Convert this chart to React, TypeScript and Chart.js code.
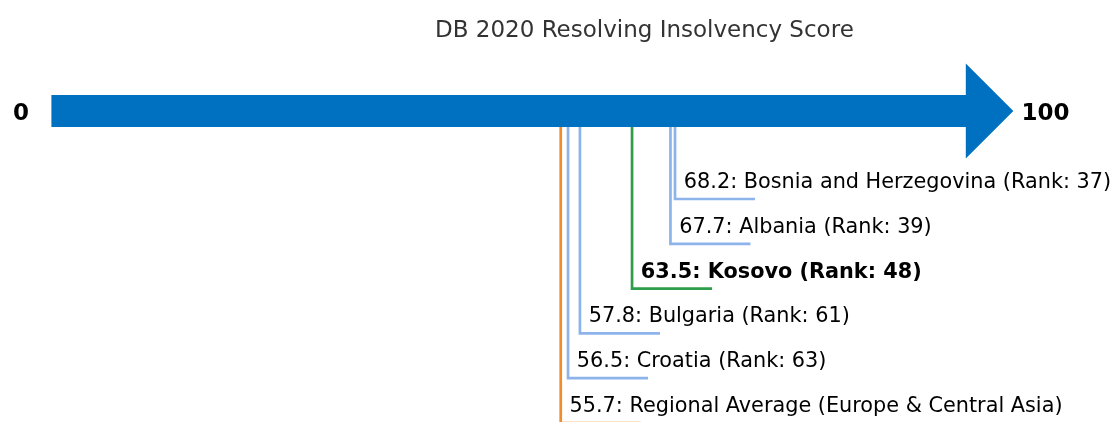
import React, { useEffect, useRef } from "react";
import { Chart, registerables } from "chart.js";

Chart.register(...registerables);

// ---- data ----
const titleText = "DB 2020 Resolving Insolvency Score";
const categories = [
  "Bosnia and Herzegovina",
  "Albania",
  "Kosovo",
  "Bulgaria",
  "Croatia",
  "Regional Average (Europe & Central Asia)",
];
const scores = [68.2, 67.7, 63.5, 57.8, 56.5, 55.7];
const ranks: (number | null)[] = [37, 39, 48, 61, 63, null];
const kinds = ["peer", "peer", "focus", "peer", "peer", "average"];
const tickValues = [0, 100];
const tickLabels = ["0", "100"];

// ---- styles / geometry ----
const COLORS: Record<string, string> = {
  peer: "#8cb4ea",
  focus: "#2e9e4a",
  average: "#f28b2c",
};
const ARROW_COLOR = "#0070c0";
const BAR_Y = -1.964; // bar centre level (y units)
const BAR_HALF = 0.357;
const HEAD_HALF = 1.06;
const HEAD_TIP = 105.2;
const LEG = 8.75; // horizontal leg length in score units
const FONT = '"DejaVu Sans", sans-serif';

const labelFor = (i: number) =>
  ranks[i] === null
    ? `${scores[i].toFixed(1)}: ${categories[i]}`
    : `${scores[i].toFixed(1)}: ${categories[i]} (Rank: ${ranks[i]})`;

const overlayPlugin = {
  id: "overlay",
  afterDatasetsDraw(chart: any) {
    const { ctx, scales } = chart;
    const xs = scales.x;
    const ys = scales.y;
    ctx.save();
    // arrow
    const x0 = xs.getPixelForValue(tickValues[0]);
    const x1 = xs.getPixelForValue(tickValues[1]);
    const xt = xs.getPixelForValue(HEAD_TIP);
    const yc = ys.getPixelForValue(BAR_Y);
    const yb1 = ys.getPixelForValue(BAR_Y - BAR_HALF);
    const yb2 = ys.getPixelForValue(BAR_Y + BAR_HALF);
    const yh1 = ys.getPixelForValue(BAR_Y - HEAD_HALF);
    const yh2 = ys.getPixelForValue(BAR_Y + HEAD_HALF);
    ctx.fillStyle = ARROW_COLOR;
    ctx.beginPath();
    ctx.moveTo(x0, yb1);
    ctx.lineTo(x1, yb1);
    ctx.lineTo(x1, yh1);
    ctx.lineTo(xt, yc);
    ctx.lineTo(x1, yh2);
    ctx.lineTo(x1, yb2);
    ctx.lineTo(x0, yb2);
    ctx.closePath();
    ctx.fill();

    // end labels
    ctx.fillStyle = "#000";
    ctx.font = `bold 23px ${FONT}`;
    ctx.textBaseline = "alphabetic";
    ctx.textAlign = "right";
    ctx.fillText(tickLabels[0], xs.getPixelForValue(-2.45), yc + 8.5);
    ctx.textAlign = "left";
    ctx.fillText(tickLabels[1], xs.getPixelForValue(106.1), yc + 8.5);

    // item labels
    ctx.textBaseline = "alphabetic";
    ctx.textAlign = "left";
    scores.forEach((s, i) => {
      ctx.font = `${kinds[i] === "focus" ? "bold " : ""}20.8px ${FONT}`;
      ctx.fillStyle = "#000";
      ctx.fillText(labelFor(i), xs.getPixelForValue(s) + 8.8, ys.getPixelForValue(i) - 11);
    });

    // title
    ctx.font = `23px ${FONT}`;
    ctx.fillStyle = "#333333";
    ctx.textAlign = "center";
    ctx.textBaseline = "alphabetic";
    ctx.fillText(titleText, xs.getPixelForValue(64.85), 36.5);
    ctx.restore();
  },
};

export default function App() {
  const ref = useRef<HTMLCanvasElement | null>(null);
  useEffect(() => {
    if (!ref.current) return;
    const datasets = scores.map((s, i) => ({
      label: categories[i],
      data: [
        { x: s, y: BAR_Y },
        { x: s, y: i },
        { x: s + LEG, y: i },
      ],
      showLine: true,
      borderColor: COLORS[kinds[i]],
      backgroundColor: COLORS[kinds[i]],
      borderWidth: 2.7,
      pointRadius: 0,
      borderJoinStyle: "miter" as const,
      borderCapStyle: "butt" as const,
      clip: false as const,
    }));
    const chart = new Chart(ref.current, {
      type: "scatter",
      data: { datasets },
      options: {
        animation: false,
        responsive: true,
        maintainAspectRatio: false,
        layout: { padding: { left: 51.4, right: 1112 - 51.4 - 914.4, top: 0, bottom: 0 } },
        plugins: { legend: { display: false }, tooltip: { enabled: false }, title: { display: false } },
        scales: {
          x: { type: "linear", min: 0, max: 100, display: false },
          y: { type: "linear", min: -4.442, max: 4.978, reverse: true, display: false },
        },
      },
      plugins: [overlayPlugin],
    });
    return () => chart.destroy();
  }, []);
  return (
    <div style={{ position: "fixed", left: 0, top: 0, width: 1112, height: 422, background: "#fff" }}>
      <canvas ref={ref} />
    </div>
  );
}
